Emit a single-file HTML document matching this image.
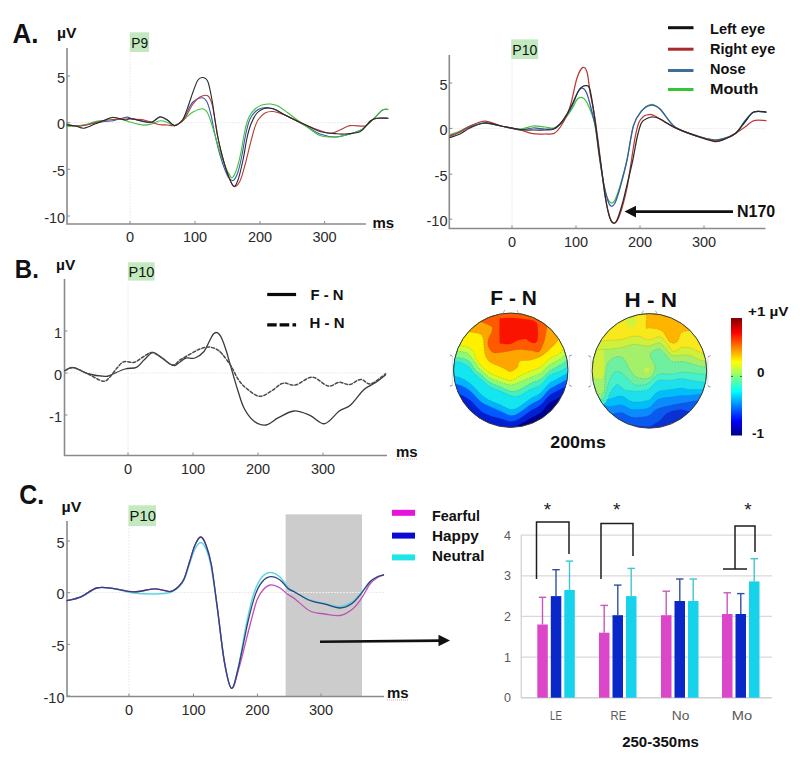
<!DOCTYPE html>
<html><head><meta charset="utf-8"><title>ERP figure</title>
<style>html,body{margin:0;padding:0;background:#fff;width:800px;height:762px;overflow:hidden}svg{display:block}</style>
</head><body>
<svg width="800" height="762" viewBox="0 0 800 762" font-family='"Liberation Sans", sans-serif'>
<rect width="800" height="762" fill="#fff"/>
<clipPath id="clipFN"><circle cx="510.8" cy="370.2" r="57.2"/></clipPath>
<g clip-path="url(#clipFN)">
<circle cx="510.8" cy="370.2" r="57.2" fill="#00008c"/>
<path d="M446.0,404.0 C448.3,404.4 455.6,405.2 459.6,406.4 C463.6,407.6 466.6,408.7 470.2,411.0 C473.8,413.3 477.7,417.7 480.9,420.0 C484.1,422.3 486.4,423.3 489.6,424.6 C492.8,425.9 496.6,427.3 500.2,428.0 C503.8,428.7 507.7,429.6 510.9,429.0 C514.1,428.4 516.4,426.4 519.6,424.6 C522.8,422.9 526.7,420.5 530.2,418.5 C533.8,416.5 537.8,415.0 540.9,412.5 C544.0,410.0 546.0,405.9 549.1,403.3 C552.2,400.8 557.0,398.9 559.8,397.2 C562.6,395.5 563.5,394.5 566.0,393.0 C568.5,391.5 573.5,388.8 575.0,388.0 L595.0,388.0 L595.0,303.0 L426.0,303.0 L426.0,404.0 Z" fill="#001ed2"/>
<path d="M446.0,392.0 C448.3,392.4 455.6,392.8 459.6,394.2 C463.6,395.6 466.6,397.5 470.2,400.3 C473.8,403.1 477.7,408.5 480.9,411.0 C484.1,413.5 486.4,414.2 489.6,415.5 C492.8,416.8 496.6,417.5 500.2,418.5 C503.8,419.5 507.7,421.6 510.9,421.6 C514.1,421.6 516.4,420.3 519.6,418.5 C522.8,416.7 526.7,413.2 530.2,410.9 C533.8,408.6 537.8,407.3 540.9,404.8 C544.0,402.3 546.0,398.2 549.1,395.7 C552.2,393.2 557.0,391.2 559.8,389.6 C562.6,388.0 563.5,387.4 566.0,386.0 C568.5,384.6 573.5,381.8 575.0,381.0 L595.0,381.0 L595.0,303.0 L426.0,303.0 L426.0,392.0 Z" fill="#005aff"/>
<path d="M446.0,383.0 C448.3,383.3 455.6,383.6 459.6,385.0 C463.6,386.4 466.6,388.3 470.2,391.1 C473.8,393.9 477.7,399.2 480.9,401.8 C484.1,404.4 486.4,404.9 489.6,406.4 C492.8,407.9 496.6,409.4 500.2,410.9 C503.8,412.4 507.7,415.2 510.9,415.5 C514.1,415.8 516.4,414.3 519.6,412.5 C522.8,410.7 526.7,407.1 530.2,404.8 C533.8,402.5 537.8,401.3 540.9,398.8 C544.0,396.3 546.0,392.2 549.1,389.6 C552.2,387.1 557.0,385.1 559.8,383.5 C562.6,381.9 563.5,381.4 566.0,380.0 C568.5,378.6 573.5,375.8 575.0,375.0 L595.0,375.0 L595.0,303.0 L426.0,303.0 L426.0,383.0 Z" fill="#00b4ff"/>
<path d="M446.0,375.0 C448.3,375.4 455.6,376.0 459.6,377.4 C463.6,378.8 466.6,380.7 470.2,383.5 C473.8,386.3 477.7,391.4 480.9,394.2 C484.1,397.0 486.4,398.5 489.6,400.3 C492.8,402.1 496.6,403.3 500.2,404.8 C503.8,406.3 507.7,409.1 510.9,409.4 C514.1,409.7 516.4,408.2 519.6,406.4 C522.8,404.6 526.7,401.1 530.2,398.8 C533.8,396.5 537.8,395.2 540.9,392.7 C544.0,390.1 546.0,386.1 549.1,383.5 C552.2,380.9 557.0,379.0 559.8,377.4 C562.6,375.8 563.5,375.4 566.0,374.0 C568.5,372.6 573.5,369.8 575.0,369.0 L595.0,369.0 L595.0,303.0 L426.0,303.0 L426.0,375.0 Z" fill="#14e6f0"/>
<path d="M446.0,361.0 C448.3,361.2 456.3,361.5 459.6,362.2 C462.9,362.9 464.2,364.0 466.0,365.0 C467.8,366.0 468.9,366.9 470.2,368.3 C471.5,369.7 472.2,371.7 474.0,373.5 C475.8,375.3 478.3,376.8 480.9,379.0 C483.5,381.2 486.4,384.6 489.6,386.6 C492.8,388.6 496.6,389.6 500.2,391.1 C503.8,392.6 507.7,394.9 510.9,395.7 C514.1,396.5 516.4,396.7 519.6,395.7 C522.8,394.7 526.7,391.4 530.2,389.6 C533.8,387.8 537.8,387.3 540.9,385.0 C544.0,382.7 546.0,378.3 549.1,376.0 C552.2,373.7 557.0,372.7 559.8,371.4 C562.6,370.1 563.5,369.6 566.0,368.0 C568.5,366.4 573.5,363.0 575.0,362.0 L595.0,362.0 L595.0,303.0 L426.0,303.0 L426.0,361.0 Z" fill="#46f0be"/>
<path d="M446.0,356.0 C448.3,356.3 456.3,357.1 459.6,357.7 C462.9,358.3 464.2,358.8 466.0,359.5 C467.8,360.2 468.9,360.8 470.2,362.2 C471.5,363.6 472.9,366.4 474.0,368.0 C475.1,369.6 475.9,370.9 477.0,372.0 C478.1,373.1 478.8,372.7 480.9,374.4 C483.0,376.1 486.4,380.0 489.6,382.0 C492.8,384.0 496.6,385.1 500.2,386.6 C503.8,388.1 507.7,390.6 510.9,391.1 C514.1,391.6 516.4,390.9 519.6,389.6 C522.8,388.3 526.7,385.3 530.2,383.5 C533.8,381.7 537.8,381.0 540.9,379.0 C544.0,377.0 546.0,373.7 549.1,371.4 C552.2,369.1 557.0,367.0 559.8,365.3 C562.6,363.6 563.5,362.9 566.0,361.0 C568.5,359.1 573.5,355.2 575.0,354.0 L595.0,354.0 L595.0,303.0 L426.0,303.0 L426.0,356.0 Z" fill="#8cfa78"/>
<path d="M446.0,350.0 C448.3,350.3 456.1,351.1 459.6,351.6 C463.1,352.1 465.2,352.2 467.0,353.0 C468.8,353.8 469.0,354.8 470.2,356.1 C471.4,357.4 472.7,359.3 474.0,361.0 C475.3,362.7 476.9,365.0 478.0,366.5 C479.1,368.0 479.0,368.0 480.9,369.8 C482.8,371.6 486.4,375.4 489.6,377.4 C492.8,379.4 496.6,380.7 500.2,382.0 C503.8,383.3 507.7,385.0 510.9,385.0 C514.1,385.0 516.4,383.3 519.6,382.0 C522.8,380.7 526.7,378.9 530.2,377.4 C533.8,375.9 537.8,374.9 540.9,372.9 C544.0,370.9 546.0,367.6 549.1,365.3 C552.2,363.0 557.0,361.1 559.8,359.2 C562.6,357.3 563.5,356.4 566.0,354.0 C568.5,351.6 573.5,346.5 575.0,345.0 L595.0,345.0 L595.0,303.0 L426.0,303.0 L426.0,350.0 Z" fill="#c8ff3c"/>
<path d="M446.0,338.0 C448.3,339.2 456.0,343.5 459.6,345.0 C463.2,346.5 465.4,346.0 467.7,347.1 C470.0,348.2 472.2,349.8 473.6,351.8 C475.0,353.8 474.8,356.6 476.0,358.9 C477.2,361.1 478.6,363.0 480.9,365.3 C483.2,367.6 486.4,370.9 489.6,372.9 C492.8,374.9 496.6,376.1 500.2,377.4 C503.8,378.7 507.7,380.7 510.9,380.5 C514.1,380.3 516.4,377.5 519.6,376.0 C522.8,374.5 526.7,372.9 530.2,371.4 C533.8,369.9 537.8,368.8 540.9,366.8 C544.0,364.8 546.0,361.5 549.1,359.2 C552.2,356.9 557.0,355.5 559.8,353.1 C562.6,350.7 563.5,348.2 566.0,345.0 C568.5,341.8 573.5,335.8 575.0,334.0 L595.0,334.0 L595.0,303.0 L426.0,303.0 L426.0,338.0 Z" fill="#fff000"/>
<path d="M462.0,331.0 C463.3,331.2 467.0,331.5 470.0,332.0 C473.0,332.5 477.8,333.0 480.0,334.0 C482.2,335.0 482.3,335.8 483.0,338.0 C483.7,340.2 483.6,344.0 484.0,347.0 C484.4,350.0 484.5,353.5 485.5,356.0 C486.5,358.5 487.6,360.2 490.0,362.0 C492.4,363.8 497.1,365.3 499.6,366.5 C502.1,367.7 503.2,368.2 505.0,369.0 C506.8,369.8 508.3,371.8 510.4,371.5 C512.5,371.2 515.9,368.9 517.5,367.2 C519.1,365.5 517.6,362.5 519.8,361.3 C522.0,360.1 526.8,361.1 530.5,360.1 C534.2,359.1 539.0,357.4 542.3,355.4 C545.6,353.4 548.1,350.5 550.5,348.3 C552.9,346.1 554.1,345.1 556.4,342.4 C558.6,339.7 562.7,333.7 564.0,332.0 L584.0,332.0 L584.0,303.0 L442.0,303.0 L442.0,331.0 Z" fill="#ffa500"/>
<path d="M470.0,318.0 C471.7,318.6 476.9,320.2 480.0,321.4 C483.1,322.5 486.7,323.9 488.7,324.9 C490.7,325.9 491.8,326.2 492.2,327.5 C492.6,328.8 492.0,330.9 491.4,332.7 C490.8,334.4 489.3,335.9 488.7,338.0 C488.1,340.1 487.6,343.0 487.9,345.0 C488.2,347.0 489.3,348.9 490.5,350.2 C491.7,351.5 492.3,352.8 495.0,353.0 C497.7,353.2 502.9,352.1 506.8,351.5 C510.7,350.9 514.6,349.6 518.6,349.5 C522.6,349.4 527.1,350.2 530.5,350.6 C533.9,351.0 536.7,352.6 538.7,351.8 C540.7,351.0 541.3,347.9 542.3,345.9 C543.3,343.9 543.9,342.6 544.6,340.0 C545.3,337.4 545.9,332.8 546.5,330.0 C547.1,327.2 546.6,325.1 548.2,323.1 C549.8,321.1 554.7,318.9 556.0,318.0 L576.0,318.0 L576.0,303.0 L450.0,303.0 L450.0,318.0 Z" fill="#ff5a00"/>
<path d="M499.7,319.6 C499.2,323.6 499.5,338.4 499.7,342.4 C499.9,346.4 499.2,343.2 501.0,343.5 C502.8,343.8 507.8,344.6 510.6,344.1 C513.4,343.6 515.1,341.5 517.6,340.6 C520.1,339.7 523.6,338.8 525.5,338.9 C527.4,339.0 527.5,340.8 529.0,341.5 C530.5,342.2 532.8,343.5 534.2,343.2 C535.7,342.9 537.1,342.3 537.7,339.7 C538.3,337.1 538.0,330.4 537.7,327.5 C537.4,324.6 537.5,323.5 536.0,322.2 C534.5,320.9 532.5,320.3 529.0,319.6 C525.5,318.9 519.4,318.1 515.0,317.9 C510.6,317.7 505.2,318.0 502.7,318.3 C500.1,318.6 500.2,315.6 499.7,319.6Z" fill="#fa1400"/>
<path d="M446.0,392.0 C448.3,392.4 455.6,392.8 459.6,394.2 C463.6,395.6 466.6,397.5 470.2,400.3 C473.8,403.1 477.7,408.5 480.9,411.0 C484.1,413.5 486.4,414.2 489.6,415.5 C492.8,416.8 496.6,417.5 500.2,418.5 C503.8,419.5 507.7,421.6 510.9,421.6 C514.1,421.6 516.4,420.3 519.6,418.5 C522.8,416.7 526.7,413.2 530.2,410.9 C533.8,408.6 537.8,407.3 540.9,404.8 C544.0,402.3 546.0,398.2 549.1,395.7 C552.2,393.2 557.0,391.2 559.8,389.6 C562.6,388.0 563.5,387.4 566.0,386.0 C568.5,384.6 573.5,381.8 575.0,381.0" fill="none" stroke="#404040" stroke-opacity="0.35" stroke-width="0.6" stroke-dasharray="1.5,1.2"/>
<path d="M446.0,383.0 C448.3,383.3 455.6,383.6 459.6,385.0 C463.6,386.4 466.6,388.3 470.2,391.1 C473.8,393.9 477.7,399.2 480.9,401.8 C484.1,404.4 486.4,404.9 489.6,406.4 C492.8,407.9 496.6,409.4 500.2,410.9 C503.8,412.4 507.7,415.2 510.9,415.5 C514.1,415.8 516.4,414.3 519.6,412.5 C522.8,410.7 526.7,407.1 530.2,404.8 C533.8,402.5 537.8,401.3 540.9,398.8 C544.0,396.3 546.0,392.2 549.1,389.6 C552.2,387.1 557.0,385.1 559.8,383.5 C562.6,381.9 563.5,381.4 566.0,380.0 C568.5,378.6 573.5,375.8 575.0,375.0" fill="none" stroke="#404040" stroke-opacity="0.35" stroke-width="0.6" stroke-dasharray="1.5,1.2"/>
<path d="M446.0,375.0 C448.3,375.4 455.6,376.0 459.6,377.4 C463.6,378.8 466.6,380.7 470.2,383.5 C473.8,386.3 477.7,391.4 480.9,394.2 C484.1,397.0 486.4,398.5 489.6,400.3 C492.8,402.1 496.6,403.3 500.2,404.8 C503.8,406.3 507.7,409.1 510.9,409.4 C514.1,409.7 516.4,408.2 519.6,406.4 C522.8,404.6 526.7,401.1 530.2,398.8 C533.8,396.5 537.8,395.2 540.9,392.7 C544.0,390.1 546.0,386.1 549.1,383.5 C552.2,380.9 557.0,379.0 559.8,377.4 C562.6,375.8 563.5,375.4 566.0,374.0 C568.5,372.6 573.5,369.8 575.0,369.0" fill="none" stroke="#404040" stroke-opacity="0.35" stroke-width="0.6" stroke-dasharray="1.5,1.2"/>
<path d="M446.0,361.0 C448.3,361.2 456.3,361.5 459.6,362.2 C462.9,362.9 464.2,364.0 466.0,365.0 C467.8,366.0 468.9,366.9 470.2,368.3 C471.5,369.7 472.2,371.7 474.0,373.5 C475.8,375.3 478.3,376.8 480.9,379.0 C483.5,381.2 486.4,384.6 489.6,386.6 C492.8,388.6 496.6,389.6 500.2,391.1 C503.8,392.6 507.7,394.9 510.9,395.7 C514.1,396.5 516.4,396.7 519.6,395.7 C522.8,394.7 526.7,391.4 530.2,389.6 C533.8,387.8 537.8,387.3 540.9,385.0 C544.0,382.7 546.0,378.3 549.1,376.0 C552.2,373.7 557.0,372.7 559.8,371.4 C562.6,370.1 563.5,369.6 566.0,368.0 C568.5,366.4 573.5,363.0 575.0,362.0" fill="none" stroke="#404040" stroke-opacity="0.35" stroke-width="0.6" stroke-dasharray="1.5,1.2"/>
<path d="M446.0,356.0 C448.3,356.3 456.3,357.1 459.6,357.7 C462.9,358.3 464.2,358.8 466.0,359.5 C467.8,360.2 468.9,360.8 470.2,362.2 C471.5,363.6 472.9,366.4 474.0,368.0 C475.1,369.6 475.9,370.9 477.0,372.0 C478.1,373.1 478.8,372.7 480.9,374.4 C483.0,376.1 486.4,380.0 489.6,382.0 C492.8,384.0 496.6,385.1 500.2,386.6 C503.8,388.1 507.7,390.6 510.9,391.1 C514.1,391.6 516.4,390.9 519.6,389.6 C522.8,388.3 526.7,385.3 530.2,383.5 C533.8,381.7 537.8,381.0 540.9,379.0 C544.0,377.0 546.0,373.7 549.1,371.4 C552.2,369.1 557.0,367.0 559.8,365.3 C562.6,363.6 563.5,362.9 566.0,361.0 C568.5,359.1 573.5,355.2 575.0,354.0" fill="none" stroke="#404040" stroke-opacity="0.35" stroke-width="0.6" stroke-dasharray="1.5,1.2"/>
<path d="M446.0,350.0 C448.3,350.3 456.1,351.1 459.6,351.6 C463.1,352.1 465.2,352.2 467.0,353.0 C468.8,353.8 469.0,354.8 470.2,356.1 C471.4,357.4 472.7,359.3 474.0,361.0 C475.3,362.7 476.9,365.0 478.0,366.5 C479.1,368.0 479.0,368.0 480.9,369.8 C482.8,371.6 486.4,375.4 489.6,377.4 C492.8,379.4 496.6,380.7 500.2,382.0 C503.8,383.3 507.7,385.0 510.9,385.0 C514.1,385.0 516.4,383.3 519.6,382.0 C522.8,380.7 526.7,378.9 530.2,377.4 C533.8,375.9 537.8,374.9 540.9,372.9 C544.0,370.9 546.0,367.6 549.1,365.3 C552.2,363.0 557.0,361.1 559.8,359.2 C562.6,357.3 563.5,356.4 566.0,354.0 C568.5,351.6 573.5,346.5 575.0,345.0" fill="none" stroke="#404040" stroke-opacity="0.35" stroke-width="0.6" stroke-dasharray="1.5,1.2"/>
<path d="M446.0,338.0 C448.3,339.2 456.0,343.5 459.6,345.0 C463.2,346.5 465.4,346.0 467.7,347.1 C470.0,348.2 472.2,349.8 473.6,351.8 C475.0,353.8 474.8,356.6 476.0,358.9 C477.2,361.1 478.6,363.0 480.9,365.3 C483.2,367.6 486.4,370.9 489.6,372.9 C492.8,374.9 496.6,376.1 500.2,377.4 C503.8,378.7 507.7,380.7 510.9,380.5 C514.1,380.3 516.4,377.5 519.6,376.0 C522.8,374.5 526.7,372.9 530.2,371.4 C533.8,369.9 537.8,368.8 540.9,366.8 C544.0,364.8 546.0,361.5 549.1,359.2 C552.2,356.9 557.0,355.5 559.8,353.1 C562.6,350.7 563.5,348.2 566.0,345.0 C568.5,341.8 573.5,335.8 575.0,334.0" fill="none" stroke="#404040" stroke-opacity="0.35" stroke-width="0.6" stroke-dasharray="1.5,1.2"/>
<path d="M462.0,331.0 C463.3,331.2 467.0,331.5 470.0,332.0 C473.0,332.5 477.8,333.0 480.0,334.0 C482.2,335.0 482.3,335.8 483.0,338.0 C483.7,340.2 483.6,344.0 484.0,347.0 C484.4,350.0 484.5,353.5 485.5,356.0 C486.5,358.5 487.6,360.2 490.0,362.0 C492.4,363.8 497.1,365.3 499.6,366.5 C502.1,367.7 503.2,368.2 505.0,369.0 C506.8,369.8 508.3,371.8 510.4,371.5 C512.5,371.2 515.9,368.9 517.5,367.2 C519.1,365.5 517.6,362.5 519.8,361.3 C522.0,360.1 526.8,361.1 530.5,360.1 C534.2,359.1 539.0,357.4 542.3,355.4 C545.6,353.4 548.1,350.5 550.5,348.3 C552.9,346.1 554.1,345.1 556.4,342.4 C558.6,339.7 562.7,333.7 564.0,332.0" fill="none" stroke="#404040" stroke-opacity="0.35" stroke-width="0.6" stroke-dasharray="1.5,1.2"/>
<path d="M470.0,318.0 C471.7,318.6 476.9,320.2 480.0,321.4 C483.1,322.5 486.7,323.9 488.7,324.9 C490.7,325.9 491.8,326.2 492.2,327.5 C492.6,328.8 492.0,330.9 491.4,332.7 C490.8,334.4 489.3,335.9 488.7,338.0 C488.1,340.1 487.6,343.0 487.9,345.0 C488.2,347.0 489.3,348.9 490.5,350.2 C491.7,351.5 492.3,352.8 495.0,353.0 C497.7,353.2 502.9,352.1 506.8,351.5 C510.7,350.9 514.6,349.6 518.6,349.5 C522.6,349.4 527.1,350.2 530.5,350.6 C533.9,351.0 536.7,352.6 538.7,351.8 C540.7,351.0 541.3,347.9 542.3,345.9 C543.3,343.9 543.9,342.6 544.6,340.0 C545.3,337.4 545.9,332.8 546.5,330.0 C547.1,327.2 546.6,325.1 548.2,323.1 C549.8,321.1 554.7,318.9 556.0,318.0" fill="none" stroke="#404040" stroke-opacity="0.35" stroke-width="0.6" stroke-dasharray="1.5,1.2"/>
</g>
<circle cx="510.8" cy="370.2" r="57.2" fill="none" stroke="#3a3a3a" stroke-width="1"/>
<path d="M502.8,313.5 L504.8,310.0 M516.8,310.0 L518.8,313.5" stroke="#9a9a9a" stroke-width="0.8" fill="none"/>
<path d="M452.4,356.2 V385.2" stroke="#d4d4dc" stroke-width="0.8" fill="none"/>
<path d="M452.4,356.2 l-2.5,-1.2 M452.4,385.2 l-2.5,1.2" stroke="#8a8a94" stroke-width="1" fill="none"/>
<path d="M569.2,356.2 V385.2" stroke="#d4d4dc" stroke-width="0.8" fill="none"/>
<path d="M569.2,356.2 l2.5,-1.2 M569.2,385.2 l2.5,1.2" stroke="#8a8a94" stroke-width="1" fill="none"/>
<clipPath id="clipHN"><circle cx="649.4" cy="370.9" r="57.3"/></clipPath>
<g clip-path="url(#clipHN)">
<circle cx="649.4" cy="370.9" r="57.3" fill="#0a32d2"/>
<path d="M590.0,420.0 C593.4,420.3 605.3,421.3 610.5,421.9 C615.7,422.5 617.6,423.0 621.3,423.5 C625.0,424.0 628.2,424.5 632.7,425.0 C637.2,425.5 644.7,426.7 648.2,426.5 C651.8,426.3 652.1,425.0 654.0,424.0 C655.9,423.0 657.6,422.1 659.6,420.4 C661.6,418.7 663.9,415.6 666.0,414.0 C668.1,412.4 669.5,411.9 672.0,411.1 C674.5,410.4 678.4,409.5 681.3,409.5 C684.2,409.5 686.2,411.4 689.3,411.1 C692.4,410.9 696.3,408.9 700.1,408.0 C703.9,407.1 710.0,406.3 712.0,406.0 L732.0,406.0 L732.0,303.59999999999997 L570.0,303.59999999999997 L570.0,420.0 Z" fill="#0a5af0"/>
<path d="M590.0,414.0 C593.4,414.0 605.3,414.4 610.5,414.2 C615.7,414.0 617.6,412.1 621.3,412.6 C625.0,413.1 628.2,416.8 632.7,417.3 C637.2,417.8 644.7,416.8 648.2,415.7 C651.8,414.6 652.1,412.3 654.0,411.0 C655.9,409.7 656.6,409.0 659.6,408.0 C662.6,407.0 668.4,405.7 672.0,404.9 C675.6,404.1 678.4,403.8 681.3,403.3 C684.2,402.8 686.2,402.3 689.3,401.8 C692.4,401.3 696.3,400.7 700.1,400.2 C703.9,399.7 710.0,399.2 712.0,399.0 L732.0,399.0 L732.0,303.59999999999997 L570.0,303.59999999999997 L570.0,414.0 Z" fill="#0a8cff"/>
<path d="M590.0,408.0 C591.6,407.5 596.2,405.3 599.6,405.0 C603.0,404.7 606.9,406.4 610.5,406.4 C614.1,406.4 617.6,404.5 621.3,405.0 C625.0,405.5 628.2,409.0 632.7,409.5 C637.2,410.0 644.7,409.1 648.2,408.0 C651.8,406.9 652.1,404.6 654.0,403.0 C655.9,401.4 656.6,399.7 659.6,398.7 C662.6,397.7 668.4,397.6 672.0,397.1 C675.6,396.6 678.4,395.9 681.3,395.6 C684.2,395.4 686.2,395.9 689.3,395.6 C692.4,395.3 696.3,394.4 700.1,394.0 C703.9,393.6 710.0,393.2 712.0,393.0 L732.0,393.0 L732.0,303.59999999999997 L570.0,303.59999999999997 L570.0,408.0 Z" fill="#00befa"/>
<path d="M590.0,404.0 C591.6,403.7 596.2,402.9 599.6,402.0 C603.0,401.1 606.9,399.7 610.5,398.7 C614.1,397.7 617.6,395.5 621.3,396.0 C625.0,396.5 628.2,401.1 632.7,401.8 C637.2,402.5 644.7,401.3 648.2,400.2 C651.8,399.1 652.1,396.5 654.0,395.0 C655.9,393.5 656.6,391.9 659.6,391.0 C662.6,390.1 668.4,389.9 672.0,389.4 C675.6,388.9 678.4,387.9 681.3,387.9 C684.2,387.9 686.2,389.1 689.3,389.4 C692.4,389.6 696.3,389.5 700.1,389.4 C703.9,389.3 710.0,389.1 712.0,389.0 L732.0,389.0 L732.0,303.59999999999997 L570.0,303.59999999999997 L570.0,404.0 Z" fill="#1ee0ec"/>
<path d="M590.0,402.0 C592.4,402.3 600.8,405.7 604.2,404.0 C607.6,402.3 608.7,395.0 610.5,392.0 C612.3,389.0 613.8,387.2 615.0,386.0 C616.2,384.8 617.0,384.3 618.0,384.5 C619.0,384.7 619.8,386.1 621.0,387.0 C622.2,387.9 623.0,389.3 625.0,390.0 C627.0,390.7 630.2,390.8 632.7,391.0 C635.2,391.2 637.4,391.3 640.0,391.0 C642.6,390.7 645.9,390.6 648.2,389.4 C650.5,388.2 652.1,385.6 654.0,384.0 C655.9,382.4 656.6,380.8 659.6,380.1 C662.6,379.5 668.4,380.4 672.0,380.1 C675.6,379.9 678.4,378.6 681.3,378.6 C684.2,378.6 686.2,379.6 689.3,380.1 C692.4,380.6 696.3,381.4 700.1,381.7 C703.9,382.0 710.0,381.9 712.0,382.0 L732.0,382.0 L732.0,303.59999999999997 L570.0,303.59999999999997 L570.0,402.0 Z" fill="#46f0c8"/>
<path d="M590.0,398.0 C592.2,398.2 600.2,400.7 603.0,399.0 C605.8,397.3 605.8,391.5 607.0,388.0 C608.2,384.5 609.2,380.7 610.5,378.0 C611.8,375.3 613.4,373.0 615.0,372.0 C616.6,371.0 618.3,371.3 620.0,372.0 C621.7,372.7 623.3,374.5 625.0,376.0 C626.7,377.5 628.4,379.5 630.0,381.0 C631.6,382.5 632.7,384.1 634.9,384.8 C637.1,385.5 640.9,385.3 643.1,385.0 C645.3,384.7 646.4,384.4 648.2,383.2 C650.0,382.0 652.1,379.5 654.0,378.0 C655.9,376.5 656.6,374.7 659.6,374.0 C662.6,373.3 668.4,374.3 672.0,374.0 C675.6,373.7 678.4,372.7 681.3,372.4 C684.2,372.1 686.2,372.1 689.3,372.4 C692.4,372.6 696.3,373.6 700.1,373.9 C703.9,374.2 710.0,374.0 712.0,374.0 L732.0,374.0 L732.0,303.59999999999997 L570.0,303.59999999999997 L570.0,398.0 Z" fill="#6ef0a0"/>
<path d="M590.0,393.0 C592.2,393.0 600.5,396.0 603.0,393.1 C605.5,390.2 604.5,380.3 605.3,375.4 C606.1,370.5 606.3,366.6 607.7,363.6 C609.1,360.7 611.3,358.8 613.6,357.7 C615.9,356.6 619.2,356.3 621.3,357.0 C623.4,357.7 624.7,360.1 626.0,362.0 C627.3,363.9 627.5,366.0 629.0,368.3 C630.5,370.6 632.8,374.3 634.9,376.0 C637.0,377.7 639.5,378.3 641.9,378.6 C644.2,378.9 647.0,378.9 649.0,378.0 C651.0,377.1 652.7,375.1 653.7,373.1 C654.7,371.1 655.3,368.4 654.9,366.0 C654.5,363.6 652.2,360.9 651.4,358.9 C650.6,356.9 649.8,355.6 650.2,354.2 C650.6,352.8 652.1,351.2 653.7,350.4 C655.3,349.6 657.6,348.4 659.6,349.2 C661.6,350.0 663.9,352.9 666.0,355.0 C668.1,357.1 669.5,360.4 672.0,361.5 C674.5,362.6 678.4,361.2 681.3,361.5 C684.2,361.8 686.2,362.3 689.3,363.1 C692.4,363.9 696.3,365.4 700.1,366.2 C703.9,367.0 710.0,367.7 712.0,368.0 L732.0,368.0 L732.0,303.59999999999997 L570.0,303.59999999999997 L570.0,393.0 Z" fill="#a5f06a"/>
<path d="M590.0,350.0 C591.6,349.9 596.2,349.7 599.6,349.5 C603.0,349.3 606.9,349.3 610.5,349.0 C614.1,348.7 617.6,348.2 621.3,347.5 C625.0,346.8 629.6,344.9 632.7,344.5 C635.8,344.1 637.4,344.8 640.0,345.0 C642.6,345.2 644.9,346.3 648.2,346.0 C651.5,345.7 656.6,342.5 659.6,343.0 C662.6,343.5 663.9,346.9 666.0,349.0 C668.1,351.1 669.5,354.2 672.0,355.3 C674.5,356.4 678.4,355.3 681.3,355.3 C684.2,355.3 686.2,354.5 689.3,355.3 C692.4,356.1 696.3,358.7 700.1,360.0 C703.9,361.3 710.0,362.5 712.0,363.0 L732.0,363.0 L732.0,303.59999999999997 L570.0,303.59999999999997 L570.0,350.0 Z" fill="#d0f03c"/>
<path d="M590.0,342.0 C591.6,341.8 596.2,341.3 599.6,341.0 C603.0,340.7 606.9,340.4 610.5,340.2 C614.1,339.9 617.6,340.1 621.3,339.5 C625.0,338.9 629.6,337.0 632.7,336.5 C635.8,336.0 637.4,335.9 640.0,336.5 C642.6,337.1 644.9,339.8 648.2,339.9 C651.5,339.9 656.6,336.4 659.6,336.8 C662.6,337.2 663.9,339.7 666.0,342.0 C668.1,344.3 670.0,349.4 672.0,350.7 C674.0,352.0 676.5,350.5 678.0,350.0 C679.5,349.5 679.4,348.0 681.3,347.6 C683.2,347.2 686.2,346.8 689.3,347.6 C692.4,348.4 696.3,350.8 700.1,352.2 C703.9,353.6 710.0,355.4 712.0,356.0 L732.0,356.0 L732.0,303.59999999999997 L570.0,303.59999999999997 L570.0,342.0 Z" fill="#f8e81c"/>
<path d="M640.0,300.0 C641.0,302.2 645.1,308.7 646.1,313.2 C647.1,317.7 645.7,324.7 646.1,327.2 C646.5,329.7 646.8,327.8 648.7,328.1 C650.6,328.4 655.2,328.4 657.5,329.0 C659.8,329.6 661.2,330.3 662.7,331.6 C664.2,332.9 665.0,335.1 666.2,336.9 C667.4,338.6 668.2,341.1 669.7,342.1 C671.2,343.1 673.5,343.4 675.0,343.0 C676.5,342.6 677.6,341.0 678.5,339.5 C679.4,338.0 679.3,335.5 680.2,334.2 C681.1,332.9 682.4,332.2 683.7,331.6 C685.0,331.0 685.4,331.3 688.1,330.7 C690.8,330.1 698.0,328.4 700.0,328.0 L720.0,328.0 L720.0,303.59999999999997 L620.0,303.59999999999997 L620.0,300.0 Z" fill="#ffb400"/>
<path d="M626.0,318.0 C626.8,316.6 629.3,316.4 631.0,316.5 C632.7,316.6 635.1,317.2 636.0,318.5 C636.9,319.8 637.3,322.5 636.5,324.0 C635.7,325.5 632.7,327.3 631.0,327.5 C629.3,327.7 627.3,326.6 626.5,325.0 C625.7,323.4 625.2,319.4 626.0,318.0Z" fill="#d2f03c"/>
<path d="M588.0,346.0 C589.3,340.0 593.7,345.0 596.0,345.0 C598.3,345.0 600.7,344.2 602.0,346.0 C603.3,347.8 603.7,352.3 604.0,356.0 C604.3,359.7 604.2,364.5 604.0,368.0 C603.8,371.5 603.3,375.0 602.5,377.0 C601.7,379.0 600.4,379.3 599.0,380.0 C597.6,380.7 595.8,380.8 594.0,381.0 C592.2,381.2 589.0,386.8 588.0,381.0 C587.0,375.2 586.7,352.0 588.0,346.0Z" fill="#d0f03c"/>
<path d="M588.0,379.0 C589.5,375.4 594.7,378.3 597.0,378.5 C599.3,378.7 601.0,378.1 602.0,380.0 C603.0,381.9 603.2,387.3 603.0,390.0 C602.8,392.7 602.3,394.3 601.0,396.0 C599.7,397.7 597.2,399.3 595.0,400.0 C592.8,400.7 589.2,403.5 588.0,400.0 C586.8,396.5 586.5,382.6 588.0,379.0Z" fill="#a5f06a"/>
<path d="M644.0,370.0 C644.0,369.1 645.8,367.3 646.7,367.3 C647.6,367.3 649.4,369.1 649.4,370.0 C649.4,370.9 647.6,372.7 646.7,372.7 C645.8,372.7 644.0,370.9 644.0,370.0Z" fill="#d0f048"/>
<path d="M590.0,414.0 C593.4,414.0 605.3,414.4 610.5,414.2 C615.7,414.0 617.6,412.1 621.3,412.6 C625.0,413.1 628.2,416.8 632.7,417.3 C637.2,417.8 644.7,416.8 648.2,415.7 C651.8,414.6 652.1,412.3 654.0,411.0 C655.9,409.7 656.6,409.0 659.6,408.0 C662.6,407.0 668.4,405.7 672.0,404.9 C675.6,404.1 678.4,403.8 681.3,403.3 C684.2,402.8 686.2,402.3 689.3,401.8 C692.4,401.3 696.3,400.7 700.1,400.2 C703.9,399.7 710.0,399.2 712.0,399.0" fill="none" stroke="#404040" stroke-opacity="0.35" stroke-width="0.6" stroke-dasharray="1.5,1.2"/>
<path d="M590.0,408.0 C591.6,407.5 596.2,405.3 599.6,405.0 C603.0,404.7 606.9,406.4 610.5,406.4 C614.1,406.4 617.6,404.5 621.3,405.0 C625.0,405.5 628.2,409.0 632.7,409.5 C637.2,410.0 644.7,409.1 648.2,408.0 C651.8,406.9 652.1,404.6 654.0,403.0 C655.9,401.4 656.6,399.7 659.6,398.7 C662.6,397.7 668.4,397.6 672.0,397.1 C675.6,396.6 678.4,395.9 681.3,395.6 C684.2,395.4 686.2,395.9 689.3,395.6 C692.4,395.3 696.3,394.4 700.1,394.0 C703.9,393.6 710.0,393.2 712.0,393.0" fill="none" stroke="#404040" stroke-opacity="0.35" stroke-width="0.6" stroke-dasharray="1.5,1.2"/>
<path d="M590.0,404.0 C591.6,403.7 596.2,402.9 599.6,402.0 C603.0,401.1 606.9,399.7 610.5,398.7 C614.1,397.7 617.6,395.5 621.3,396.0 C625.0,396.5 628.2,401.1 632.7,401.8 C637.2,402.5 644.7,401.3 648.2,400.2 C651.8,399.1 652.1,396.5 654.0,395.0 C655.9,393.5 656.6,391.9 659.6,391.0 C662.6,390.1 668.4,389.9 672.0,389.4 C675.6,388.9 678.4,387.9 681.3,387.9 C684.2,387.9 686.2,389.1 689.3,389.4 C692.4,389.6 696.3,389.5 700.1,389.4 C703.9,389.3 710.0,389.1 712.0,389.0" fill="none" stroke="#404040" stroke-opacity="0.35" stroke-width="0.6" stroke-dasharray="1.5,1.2"/>
<path d="M590.0,402.0 C592.4,402.3 600.8,405.7 604.2,404.0 C607.6,402.3 608.7,395.0 610.5,392.0 C612.3,389.0 613.8,387.2 615.0,386.0 C616.2,384.8 617.0,384.3 618.0,384.5 C619.0,384.7 619.8,386.1 621.0,387.0 C622.2,387.9 623.0,389.3 625.0,390.0 C627.0,390.7 630.2,390.8 632.7,391.0 C635.2,391.2 637.4,391.3 640.0,391.0 C642.6,390.7 645.9,390.6 648.2,389.4 C650.5,388.2 652.1,385.6 654.0,384.0 C655.9,382.4 656.6,380.8 659.6,380.1 C662.6,379.5 668.4,380.4 672.0,380.1 C675.6,379.9 678.4,378.6 681.3,378.6 C684.2,378.6 686.2,379.6 689.3,380.1 C692.4,380.6 696.3,381.4 700.1,381.7 C703.9,382.0 710.0,381.9 712.0,382.0" fill="none" stroke="#404040" stroke-opacity="0.35" stroke-width="0.6" stroke-dasharray="1.5,1.2"/>
<path d="M590.0,398.0 C592.2,398.2 600.2,400.7 603.0,399.0 C605.8,397.3 605.8,391.5 607.0,388.0 C608.2,384.5 609.2,380.7 610.5,378.0 C611.8,375.3 613.4,373.0 615.0,372.0 C616.6,371.0 618.3,371.3 620.0,372.0 C621.7,372.7 623.3,374.5 625.0,376.0 C626.7,377.5 628.4,379.5 630.0,381.0 C631.6,382.5 632.7,384.1 634.9,384.8 C637.1,385.5 640.9,385.3 643.1,385.0 C645.3,384.7 646.4,384.4 648.2,383.2 C650.0,382.0 652.1,379.5 654.0,378.0 C655.9,376.5 656.6,374.7 659.6,374.0 C662.6,373.3 668.4,374.3 672.0,374.0 C675.6,373.7 678.4,372.7 681.3,372.4 C684.2,372.1 686.2,372.1 689.3,372.4 C692.4,372.6 696.3,373.6 700.1,373.9 C703.9,374.2 710.0,374.0 712.0,374.0" fill="none" stroke="#404040" stroke-opacity="0.35" stroke-width="0.6" stroke-dasharray="1.5,1.2"/>
<path d="M590.0,393.0 C592.2,393.0 600.5,396.0 603.0,393.1 C605.5,390.2 604.5,380.3 605.3,375.4 C606.1,370.5 606.3,366.6 607.7,363.6 C609.1,360.7 611.3,358.8 613.6,357.7 C615.9,356.6 619.2,356.3 621.3,357.0 C623.4,357.7 624.7,360.1 626.0,362.0 C627.3,363.9 627.5,366.0 629.0,368.3 C630.5,370.6 632.8,374.3 634.9,376.0 C637.0,377.7 639.5,378.3 641.9,378.6 C644.2,378.9 647.0,378.9 649.0,378.0 C651.0,377.1 652.7,375.1 653.7,373.1 C654.7,371.1 655.3,368.4 654.9,366.0 C654.5,363.6 652.2,360.9 651.4,358.9 C650.6,356.9 649.8,355.6 650.2,354.2 C650.6,352.8 652.1,351.2 653.7,350.4 C655.3,349.6 657.6,348.4 659.6,349.2 C661.6,350.0 663.9,352.9 666.0,355.0 C668.1,357.1 669.5,360.4 672.0,361.5 C674.5,362.6 678.4,361.2 681.3,361.5 C684.2,361.8 686.2,362.3 689.3,363.1 C692.4,363.9 696.3,365.4 700.1,366.2 C703.9,367.0 710.0,367.7 712.0,368.0" fill="none" stroke="#404040" stroke-opacity="0.35" stroke-width="0.6" stroke-dasharray="1.5,1.2"/>
<path d="M590.0,350.0 C591.6,349.9 596.2,349.7 599.6,349.5 C603.0,349.3 606.9,349.3 610.5,349.0 C614.1,348.7 617.6,348.2 621.3,347.5 C625.0,346.8 629.6,344.9 632.7,344.5 C635.8,344.1 637.4,344.8 640.0,345.0 C642.6,345.2 644.9,346.3 648.2,346.0 C651.5,345.7 656.6,342.5 659.6,343.0 C662.6,343.5 663.9,346.9 666.0,349.0 C668.1,351.1 669.5,354.2 672.0,355.3 C674.5,356.4 678.4,355.3 681.3,355.3 C684.2,355.3 686.2,354.5 689.3,355.3 C692.4,356.1 696.3,358.7 700.1,360.0 C703.9,361.3 710.0,362.5 712.0,363.0" fill="none" stroke="#404040" stroke-opacity="0.35" stroke-width="0.6" stroke-dasharray="1.5,1.2"/>
<path d="M590.0,342.0 C591.6,341.8 596.2,341.3 599.6,341.0 C603.0,340.7 606.9,340.4 610.5,340.2 C614.1,339.9 617.6,340.1 621.3,339.5 C625.0,338.9 629.6,337.0 632.7,336.5 C635.8,336.0 637.4,335.9 640.0,336.5 C642.6,337.1 644.9,339.8 648.2,339.9 C651.5,339.9 656.6,336.4 659.6,336.8 C662.6,337.2 663.9,339.7 666.0,342.0 C668.1,344.3 670.0,349.4 672.0,350.7 C674.0,352.0 676.5,350.5 678.0,350.0 C679.5,349.5 679.4,348.0 681.3,347.6 C683.2,347.2 686.2,346.8 689.3,347.6 C692.4,348.4 696.3,350.8 700.1,352.2 C703.9,353.6 710.0,355.4 712.0,356.0" fill="none" stroke="#404040" stroke-opacity="0.35" stroke-width="0.6" stroke-dasharray="1.5,1.2"/>
<path d="M640.0,300.0 C641.0,302.2 645.1,308.7 646.1,313.2 C647.1,317.7 645.7,324.7 646.1,327.2 C646.5,329.7 646.8,327.8 648.7,328.1 C650.6,328.4 655.2,328.4 657.5,329.0 C659.8,329.6 661.2,330.3 662.7,331.6 C664.2,332.9 665.0,335.1 666.2,336.9 C667.4,338.6 668.2,341.1 669.7,342.1 C671.2,343.1 673.5,343.4 675.0,343.0 C676.5,342.6 677.6,341.0 678.5,339.5 C679.4,338.0 679.3,335.5 680.2,334.2 C681.1,332.9 682.4,332.2 683.7,331.6 C685.0,331.0 685.4,331.3 688.1,330.7 C690.8,330.1 698.0,328.4 700.0,328.0" fill="none" stroke="#404040" stroke-opacity="0.35" stroke-width="0.6" stroke-dasharray="1.5,1.2"/>
</g>
<circle cx="649.4" cy="370.9" r="57.3" fill="none" stroke="#3a3a3a" stroke-width="1"/>
<path d="M641.4,314.09999999999997 L643.4,310.59999999999997 M655.4,310.59999999999997 L657.4,314.09999999999997" stroke="#9a9a9a" stroke-width="0.8" fill="none"/>
<path d="M590.9,356.9 V385.9" stroke="#d4d4dc" stroke-width="0.8" fill="none"/>
<path d="M590.9,356.9 l-2.5,-1.2 M590.9,385.9 l-2.5,1.2" stroke="#8a8a94" stroke-width="1" fill="none"/>
<path d="M707.9,356.9 V385.9" stroke="#d4d4dc" stroke-width="0.8" fill="none"/>
<path d="M707.9,356.9 l2.5,-1.2 M707.9,385.9 l2.5,1.2" stroke="#8a8a94" stroke-width="1" fill="none"/>

<text x="12.5" y="42.5" font-size="27" font-weight="bold" text-anchor="start" fill="#111"  textLength="26" lengthAdjust="spacingAndGlyphs">A.</text><text x="57" y="37.9" font-size="15" font-weight="bold" text-anchor="start" fill="#111"  textLength="19.5" lengthAdjust="spacingAndGlyphs">µV</text><line x1="67" y1="122.7" x2="366" y2="122.7" stroke="#ececec" stroke-width="1" stroke-dasharray="2,1"/>
<line x1="130" y1="52" x2="130" y2="224" stroke="#ececec" stroke-width="1" stroke-dasharray="2,1"/>
<path d="M67,48 V224 H366" fill="none" stroke="#8a8a8a" stroke-width="1.6"/>
<line x1="67" y1="76" x2="70" y2="76" stroke="#8a8a8a" stroke-width="1"/>
<text x="65.2" y="82.5" font-size="14.5" font-weight="normal" text-anchor="end" fill="#2a2a2a" >5</text>
<line x1="67" y1="122.7" x2="70" y2="122.7" stroke="#8a8a8a" stroke-width="1"/>
<text x="65.2" y="129.2" font-size="14.5" font-weight="normal" text-anchor="end" fill="#2a2a2a" >0</text>
<line x1="67" y1="169.3" x2="70" y2="169.3" stroke="#8a8a8a" stroke-width="1"/>
<text x="65.2" y="175.8" font-size="14.5" font-weight="normal" text-anchor="end" fill="#2a2a2a" >-5</text>
<line x1="67" y1="216" x2="70" y2="216" stroke="#8a8a8a" stroke-width="1"/>
<text x="65.2" y="222.5" font-size="14.5" font-weight="normal" text-anchor="end" fill="#2a2a2a" >-10</text>
<line x1="130" y1="224" x2="130" y2="221" stroke="#8a8a8a" stroke-width="1"/>
<text x="130" y="242" font-size="14.5" font-weight="normal" text-anchor="middle" fill="#2a2a2a" >0</text>
<line x1="195" y1="224" x2="195" y2="221" stroke="#8a8a8a" stroke-width="1"/>
<text x="195" y="242" font-size="14.5" font-weight="normal" text-anchor="middle" fill="#2a2a2a" >100</text>
<line x1="260" y1="224" x2="260" y2="221" stroke="#8a8a8a" stroke-width="1"/>
<text x="260" y="242" font-size="14.5" font-weight="normal" text-anchor="middle" fill="#2a2a2a" >200</text>
<line x1="324.6" y1="224" x2="324.6" y2="221" stroke="#8a8a8a" stroke-width="1"/>
<text x="324.6" y="242" font-size="14.5" font-weight="normal" text-anchor="middle" fill="#2a2a2a" >300</text>
<text x="372.5" y="227.5" font-size="15" font-weight="bold" text-anchor="start" fill="#111" >ms</text>
<line x1="372.5" y1="229.5" x2="393.5" y2="229.5" stroke="#e09090" stroke-width="0.8" stroke-dasharray="1,1"/><rect x="129.8" y="32.3" width="19.2" height="19.7" fill="#c4e8c0"/><text x="131.3" y="47.7" font-size="15" font-weight="normal" text-anchor="start" fill="#0c180c"  textLength="16.8" lengthAdjust="spacingAndGlyphs">P9</text><path d="M67.0,125.0 C68.4,125.2 72.7,126.0 75.5,126.0 C78.3,126.0 80.7,125.5 84.0,125.0 C87.3,124.5 92.2,123.6 95.6,123.0 C99.0,122.4 101.5,121.9 104.4,121.5 C107.3,121.1 109.4,121.4 113.0,120.7 C116.6,120.0 123.2,117.7 126.0,117.2 C128.8,116.8 127.2,117.3 130.0,118.0 C132.8,118.7 139.3,120.8 143.0,121.5 C146.7,122.2 149.2,122.8 152.0,122.0 C154.8,121.2 157.4,117.1 160.0,116.8 C162.6,116.5 165.2,118.5 167.6,120.0 C170.0,121.5 172.1,125.6 174.6,125.6 C177.1,125.6 180.4,122.3 182.5,120.0 C184.6,117.7 185.2,115.0 187.0,112.0 C188.8,109.0 190.5,104.4 193.0,102.0 C195.5,99.6 199.7,97.7 202.0,97.7 C204.3,97.7 205.5,99.1 207.0,102.0 C208.5,104.9 209.7,109.5 211.0,115.0 C212.3,120.5 213.5,128.3 215.0,135.0 C216.5,141.7 218.3,149.2 220.0,155.0 C221.7,160.8 223.5,166.2 225.0,170.0 C226.5,173.8 227.6,176.3 229.0,178.0 C230.4,179.7 231.9,181.4 233.4,180.4 C234.9,179.4 236.6,176.2 238.0,172.0 C239.4,167.8 240.7,161.5 242.0,155.0 C243.3,148.5 244.7,139.0 246.0,133.0 C247.3,127.0 248.3,122.7 250.0,119.0 C251.7,115.3 254.0,112.8 256.0,111.0 C258.0,109.2 260.0,108.5 262.0,108.0 C264.0,107.5 265.8,107.8 268.0,108.0 C270.2,108.2 272.2,108.3 275.0,109.5 C277.8,110.7 281.7,113.2 285.0,115.0 C288.3,116.8 291.2,118.0 295.0,120.0 C298.8,122.0 303.8,124.7 308.0,127.0 C312.2,129.3 315.5,132.3 320.0,134.0 C324.5,135.7 330.8,136.8 335.0,137.0 C339.2,137.2 340.8,136.3 345.0,135.2 C349.2,134.1 356.3,132.1 360.0,130.4 C363.7,128.7 364.4,127.2 367.0,125.0 C369.6,122.8 372.9,119.4 375.5,116.9 C378.1,114.4 380.4,111.1 382.5,109.9 C384.6,108.7 387.1,109.6 388.0,109.5" fill="none" stroke="#3a56a8" stroke-width="1.1" stroke-linejoin="round" stroke-linecap="round" opacity="1"/><path d="M67.0,126.4 C68.4,126.3 72.7,126.2 75.5,126.0 C78.3,125.8 80.7,125.8 84.0,125.1 C87.3,124.4 92.2,122.4 95.6,121.6 C99.0,120.8 101.5,121.0 104.4,120.3 C107.3,119.6 109.4,117.1 113.0,117.2 C116.6,117.3 123.2,120.0 126.0,120.8 C128.8,121.5 127.2,121.3 130.0,122.0 C132.8,122.7 139.3,124.8 143.0,125.1 C146.7,125.4 149.2,124.5 152.0,123.8 C154.8,123.1 157.4,121.0 160.0,120.8 C162.6,120.5 165.2,121.7 167.6,122.5 C170.0,123.3 172.1,125.8 174.6,125.6 C177.1,125.3 180.4,122.5 182.5,121.0 C184.6,119.5 185.2,118.3 187.0,116.8 C188.8,115.3 190.5,113.3 193.0,112.0 C195.5,110.7 199.7,108.7 202.0,108.7 C204.3,108.7 205.5,109.8 207.0,112.0 C208.5,114.2 209.7,118.2 211.0,122.0 C212.3,125.8 213.5,130.0 215.0,135.0 C216.5,140.0 218.3,146.8 220.0,152.0 C221.7,157.2 223.5,162.3 225.0,166.0 C226.5,169.7 227.8,172.1 229.0,174.0 C230.2,175.9 231.2,178.6 232.5,177.6 C233.8,176.6 235.6,172.3 237.0,168.0 C238.4,163.7 239.7,158.3 241.0,152.0 C242.3,145.7 243.7,135.8 245.0,130.0 C246.3,124.2 247.3,120.5 249.0,117.0 C250.7,113.5 252.8,111.0 255.0,109.0 C257.2,107.0 259.4,105.8 262.0,105.0 C264.6,104.2 268.0,103.8 270.7,104.0 C273.4,104.2 275.1,104.5 278.0,106.0 C280.9,107.5 284.3,110.3 288.0,113.0 C291.7,115.7 296.3,119.3 300.0,122.0 C303.7,124.7 306.7,126.8 310.0,129.0 C313.3,131.2 315.8,134.2 320.0,135.5 C324.2,136.8 330.8,137.1 335.0,137.0 C339.2,136.9 340.8,136.3 345.0,135.2 C349.2,134.1 356.3,132.1 360.0,130.4 C363.7,128.7 364.4,127.2 367.0,125.0 C369.6,122.8 372.9,119.4 375.5,116.9 C378.1,114.4 380.4,111.1 382.5,109.9 C384.6,108.7 387.1,109.6 388.0,109.5" fill="none" stroke="#3fbf3f" stroke-width="1.1" stroke-linejoin="round" stroke-linecap="round" opacity="1"/><path d="M67.0,123.8 C68.4,124.2 72.7,125.7 75.5,126.0 C78.3,126.3 80.7,126.1 84.0,125.5 C87.3,124.9 92.2,123.3 95.6,122.5 C99.0,121.7 101.5,121.0 104.4,120.5 C107.3,120.0 109.4,119.8 113.0,119.5 C116.6,119.2 123.2,119.1 126.0,119.0 C128.8,118.9 127.2,118.8 130.0,119.0 C132.8,119.2 139.3,119.3 143.0,119.9 C146.7,120.5 149.2,121.7 152.0,122.5 C154.8,123.3 157.4,124.3 160.0,124.7 C162.6,125.1 165.2,124.8 167.6,125.0 C170.0,125.2 172.1,126.3 174.6,125.6 C177.1,124.9 180.4,122.8 182.5,121.0 C184.6,119.2 185.2,117.4 187.0,114.6 C188.8,111.8 190.8,106.9 193.0,104.0 C195.2,101.1 197.6,98.4 200.0,97.0 C202.4,95.6 205.7,94.6 207.7,95.8 C209.7,97.0 210.8,100.0 212.0,104.0 C213.2,108.0 214.0,114.3 215.0,120.0 C216.0,125.7 216.8,132.2 218.0,138.0 C219.2,143.8 220.3,148.8 222.0,155.0 C223.7,161.2 226.0,169.8 228.0,175.0 C230.0,180.2 232.0,185.5 234.0,186.5 C236.0,187.5 238.2,184.6 240.0,181.0 C241.8,177.4 243.3,171.0 245.0,165.0 C246.7,159.0 248.5,150.8 250.0,145.0 C251.5,139.2 252.7,134.2 254.0,130.0 C255.3,125.8 256.2,122.8 258.0,120.0 C259.8,117.2 262.5,114.4 265.0,113.0 C267.5,111.6 270.2,111.3 273.0,111.5 C275.8,111.7 278.3,112.6 282.0,114.0 C285.7,115.4 290.7,118.0 295.0,120.0 C299.3,122.0 303.8,124.2 308.0,126.0 C312.2,127.8 316.3,129.3 320.0,130.6 C323.7,131.8 326.7,133.6 330.0,133.5 C333.3,133.4 336.7,131.3 340.0,130.0 C343.3,128.7 345.8,126.3 350.0,125.6 C354.2,124.9 361.7,126.8 365.0,126.0 C368.3,125.2 368.0,122.3 370.0,121.0 C372.0,119.7 374.0,118.7 377.0,118.2 C380.0,117.7 386.2,118.2 388.0,118.2" fill="none" stroke="#b83a3a" stroke-width="1.1" stroke-linejoin="round" stroke-linecap="round" opacity="1"/><path d="M67.0,125.0 C68.4,125.2 72.7,125.5 75.5,126.0 C78.3,126.5 80.7,128.6 84.0,128.2 C87.3,127.8 92.2,125.1 95.6,123.8 C99.0,122.5 101.5,121.3 104.4,120.3 C107.3,119.2 109.4,117.5 113.0,117.5 C116.6,117.5 123.2,119.8 126.0,120.0 C128.8,120.2 127.2,118.3 130.0,118.5 C132.8,118.7 139.3,120.6 143.0,121.2 C146.7,121.8 149.2,122.7 152.0,122.0 C154.8,121.3 157.4,117.3 160.0,117.0 C162.6,116.7 165.2,118.9 167.6,120.3 C170.0,121.7 172.1,125.6 174.6,125.6 C177.1,125.5 180.4,122.7 182.5,120.0 C184.6,117.3 185.2,114.1 187.0,109.4 C188.8,104.7 191.2,96.9 193.0,92.0 C194.8,87.1 196.3,82.4 198.0,80.0 C199.7,77.6 201.3,77.2 203.0,77.5 C204.7,77.8 206.5,78.2 208.0,82.0 C209.5,85.8 210.8,93.7 212.0,100.0 C213.2,106.3 214.0,113.7 215.0,120.0 C216.0,126.3 216.8,132.2 218.0,138.0 C219.2,143.8 220.5,149.3 222.0,155.0 C223.5,160.7 225.1,166.8 227.0,172.0 C228.9,177.2 231.6,184.7 233.4,186.0 C235.2,187.3 236.4,184.3 238.0,180.0 C239.6,175.7 241.5,167.0 243.0,160.0 C244.5,153.0 245.7,144.0 247.0,138.0 C248.3,132.0 249.3,128.2 251.0,124.0 C252.7,119.8 254.8,115.6 257.0,113.0 C259.2,110.4 262.0,109.3 264.0,108.5 C266.0,107.7 267.2,107.8 269.0,108.0 C270.8,108.2 272.3,108.3 275.0,109.5 C277.7,110.7 281.7,113.2 285.0,115.0 C288.3,116.8 291.2,118.2 295.0,120.0 C298.8,121.8 303.8,124.1 308.0,126.0 C312.2,127.9 315.5,130.2 320.0,131.5 C324.5,132.8 330.8,133.2 335.0,133.6 C339.2,134.0 340.8,134.3 345.0,134.0 C349.2,133.7 356.3,133.2 360.0,131.7 C363.7,130.1 365.0,126.7 367.0,124.7 C369.0,122.8 370.3,121.1 372.0,120.0 C373.7,118.9 374.3,118.5 377.0,118.2 C379.7,117.9 386.2,118.2 388.0,118.2" fill="none" stroke="#2a2a2a" stroke-width="1.1" stroke-linejoin="round" stroke-linecap="round" opacity="1"/>
<line x1="449.3" y1="128.4" x2="765.5" y2="128.4" stroke="#ececec" stroke-width="1" stroke-dasharray="2,1"/>
<line x1="512" y1="59" x2="512" y2="228.5" stroke="#ececec" stroke-width="1" stroke-dasharray="2,1"/>
<path d="M449.3,55 V228.5 H765.5" fill="none" stroke="#8a8a8a" stroke-width="1.6"/>
<line x1="449.3" y1="83" x2="452.3" y2="83" stroke="#8a8a8a" stroke-width="1"/>
<text x="447.5" y="90" font-size="14.5" font-weight="normal" text-anchor="end" fill="#2a2a2a" >5</text>
<line x1="449.3" y1="128.4" x2="452.3" y2="128.4" stroke="#8a8a8a" stroke-width="1"/>
<text x="447.5" y="135.4" font-size="14.5" font-weight="normal" text-anchor="end" fill="#2a2a2a" >0</text>
<line x1="449.3" y1="174.2" x2="452.3" y2="174.2" stroke="#8a8a8a" stroke-width="1"/>
<text x="447.5" y="181.2" font-size="14.5" font-weight="normal" text-anchor="end" fill="#2a2a2a" >-5</text>
<line x1="449.3" y1="219.2" x2="452.3" y2="219.2" stroke="#8a8a8a" stroke-width="1"/>
<text x="447.5" y="226.2" font-size="14.5" font-weight="normal" text-anchor="end" fill="#2a2a2a" >-10</text>
<line x1="512" y1="228.5" x2="512" y2="225.5" stroke="#8a8a8a" stroke-width="1"/>
<text x="512" y="246.5" font-size="14.5" font-weight="normal" text-anchor="middle" fill="#2a2a2a" >0</text>
<line x1="576" y1="228.5" x2="576" y2="225.5" stroke="#8a8a8a" stroke-width="1"/>
<text x="576" y="246.5" font-size="14.5" font-weight="normal" text-anchor="middle" fill="#2a2a2a" >100</text>
<line x1="640" y1="228.5" x2="640" y2="225.5" stroke="#8a8a8a" stroke-width="1"/>
<text x="640" y="246.5" font-size="14.5" font-weight="normal" text-anchor="middle" fill="#2a2a2a" >200</text>
<line x1="704" y1="228.5" x2="704" y2="225.5" stroke="#8a8a8a" stroke-width="1"/>
<text x="704" y="246.5" font-size="14.5" font-weight="normal" text-anchor="middle" fill="#2a2a2a" >300</text><rect x="511.2" y="39.4" width="26.9" height="19.6" fill="#c4e8c0"/><text x="512.3" y="54.7" font-size="15" font-weight="normal" text-anchor="start" fill="#0c180c"  textLength="25" lengthAdjust="spacingAndGlyphs">P10</text><path d="M450.0,134.7 C451.7,134.1 456.7,132.4 460.0,131.0 C463.3,129.6 465.8,127.3 470.0,126.0 C474.2,124.7 479.8,123.0 485.0,123.0 C490.2,123.0 495.2,125.0 501.0,126.0 C506.8,127.0 514.7,129.0 520.0,129.0 C525.3,129.0 528.8,126.3 533.0,126.0 C537.2,125.7 541.5,126.7 545.0,127.0 C548.5,127.3 551.3,128.7 554.0,128.0 C556.7,127.3 558.8,125.0 561.0,123.0 C563.2,121.0 565.1,118.5 567.0,116.0 C568.9,113.5 570.8,110.8 572.5,108.0 C574.2,105.2 575.5,101.3 577.0,99.5 C578.5,97.7 580.1,97.2 581.6,97.4 C583.1,97.7 584.4,98.6 586.0,101.0 C587.6,103.4 589.5,108.0 591.0,112.0 C592.5,116.0 593.7,117.8 595.0,125.0 C596.3,132.2 597.7,145.8 599.0,155.0 C600.3,164.2 601.7,173.0 603.0,180.0 C604.3,187.0 605.6,193.2 607.0,197.0 C608.4,200.8 610.0,202.5 611.3,203.0 C612.6,203.5 613.5,202.8 615.0,200.0 C616.5,197.2 618.0,192.7 620.0,186.0 C622.0,179.3 624.8,170.1 627.0,160.0 C629.2,149.9 631.1,133.7 633.5,125.6 C635.9,117.5 638.6,114.7 641.4,111.2 C644.2,107.7 647.4,104.9 650.5,104.5 C653.6,104.1 655.9,105.2 660.0,109.0 C664.1,112.8 668.7,122.5 675.0,127.0 C681.3,131.5 691.1,133.8 697.8,136.0 C704.5,138.2 710.5,139.6 715.0,139.9 C719.5,140.2 721.5,139.2 725.0,138.0 C728.5,136.8 732.7,135.7 736.0,132.9 C739.3,130.1 742.0,124.5 745.0,121.0 C748.0,117.5 750.3,113.5 753.8,112.0 C757.3,110.5 764.0,112.0 766.0,112.0" fill="none" stroke="#3fbf3f" stroke-width="1.25" stroke-linejoin="round" stroke-linecap="round" opacity="1"/><path d="M450.0,136.0 C451.7,135.3 456.7,133.5 460.0,132.0 C463.3,130.5 465.8,128.5 470.0,127.0 C474.2,125.5 479.8,123.2 485.0,123.0 C490.2,122.8 495.2,124.9 501.0,126.0 C506.8,127.1 514.7,129.3 520.0,129.6 C525.3,129.9 528.8,128.1 533.0,128.0 C537.2,127.9 541.5,128.9 545.0,129.0 C548.5,129.1 551.3,129.5 554.0,128.5 C556.7,127.5 558.8,125.2 561.0,123.0 C563.2,120.8 565.1,118.0 567.0,115.0 C568.9,112.0 570.7,108.8 572.5,105.0 C574.3,101.2 576.4,94.8 578.0,92.0 C579.6,89.2 580.8,87.9 582.3,88.2 C583.8,88.5 585.4,90.0 587.0,94.0 C588.6,98.0 590.5,106.0 592.0,112.0 C593.5,118.0 594.7,122.0 596.0,130.0 C597.3,138.0 598.7,150.8 600.0,160.0 C601.3,169.2 602.7,178.2 604.0,185.0 C605.3,191.8 606.8,197.5 608.0,201.0 C609.2,204.5 610.1,205.9 611.3,206.2 C612.5,206.5 613.5,206.0 615.0,203.0 C616.5,200.0 618.0,195.2 620.0,188.0 C622.0,180.8 624.8,170.4 627.0,160.0 C629.2,149.6 631.1,133.7 633.5,125.6 C635.9,117.5 638.6,114.6 641.4,111.2 C644.2,107.8 647.4,105.7 650.5,105.3 C653.6,104.9 655.9,105.4 660.0,109.0 C664.1,112.6 668.7,122.4 675.0,127.0 C681.3,131.6 691.1,134.2 697.8,136.4 C704.5,138.6 710.5,139.7 715.0,140.0 C719.5,140.3 721.5,139.2 725.0,138.0 C728.5,136.8 732.7,135.7 736.0,132.9 C739.3,130.1 742.0,124.5 745.0,121.0 C748.0,117.5 750.3,113.5 753.8,112.0 C757.3,110.5 764.0,112.0 766.0,112.0" fill="none" stroke="#3a56a8" stroke-width="1.25" stroke-linejoin="round" stroke-linecap="round" opacity="1"/><path d="M450.0,136.0 C451.7,135.3 456.7,133.7 460.0,132.0 C463.3,130.3 465.8,127.8 470.0,126.0 C474.2,124.2 479.8,121.0 485.0,121.0 C490.2,121.0 495.2,124.5 501.0,126.0 C506.8,127.5 514.7,128.7 520.0,130.0 C525.3,131.3 528.8,133.0 533.0,133.7 C537.2,134.4 541.5,134.1 545.0,134.0 C548.5,133.9 551.3,134.7 554.0,133.4 C556.7,132.1 558.7,129.5 561.0,126.0 C563.3,122.5 566.2,116.9 568.0,112.5 C569.8,108.1 570.5,105.2 572.0,99.4 C573.5,93.7 575.2,83.3 577.0,78.0 C578.8,72.7 580.9,68.6 582.6,67.6 C584.3,66.6 585.7,67.8 587.0,72.0 C588.3,76.2 589.0,86.0 590.2,92.8 C591.4,99.5 592.7,104.6 594.0,112.5 C595.3,120.4 596.8,131.2 598.0,140.0 C599.2,148.8 599.8,155.8 601.0,165.0 C602.2,174.2 603.7,186.7 605.0,195.0 C606.3,203.3 607.7,210.4 609.0,215.0 C610.3,219.6 611.5,221.8 612.8,222.8 C614.1,223.8 615.5,223.5 617.0,221.0 C618.5,218.5 620.3,213.5 622.0,208.0 C623.7,202.5 625.4,196.0 627.0,188.0 C628.6,180.0 630.2,168.3 631.5,160.0 C632.8,151.7 633.8,144.2 635.0,138.0 C636.2,131.8 637.2,126.7 638.7,123.0 C640.2,119.3 642.2,117.4 644.0,116.0 C645.8,114.6 647.4,114.5 649.2,114.5 C651.0,114.5 650.7,113.8 655.0,116.0 C659.3,118.2 667.9,124.2 675.0,127.6 C682.1,131.0 691.1,134.2 697.8,136.4 C704.5,138.6 710.5,140.4 715.0,140.8 C719.5,141.2 721.5,140.3 725.0,139.0 C728.5,137.7 732.7,135.0 736.0,133.0 C739.3,131.0 742.0,129.1 745.0,127.0 C748.0,124.9 750.3,121.7 753.8,120.6 C757.3,119.5 764.0,120.6 766.0,120.6" fill="none" stroke="#b83a3a" stroke-width="1.25" stroke-linejoin="round" stroke-linecap="round" opacity="1"/><path d="M450.0,137.5 C451.7,136.9 456.7,135.6 460.0,134.0 C463.3,132.4 465.8,129.8 470.0,128.0 C474.2,126.2 479.8,123.3 485.0,123.0 C490.2,122.7 495.2,124.9 501.0,126.0 C506.8,127.1 514.7,128.9 520.0,129.6 C525.3,130.3 528.8,129.9 533.0,130.0 C537.2,130.1 541.5,130.2 545.0,130.0 C548.5,129.8 551.3,130.2 554.0,129.0 C556.7,127.8 558.8,125.5 561.0,123.0 C563.2,120.5 565.1,117.2 567.0,114.0 C568.9,110.8 570.5,107.8 572.5,103.8 C574.5,99.8 576.8,93.0 579.0,90.0 C581.2,87.0 583.8,85.6 585.6,85.6 C587.4,85.6 588.5,84.4 590.0,90.0 C591.5,95.6 593.5,110.0 594.8,119.0 C596.1,128.0 597.0,136.3 598.0,144.0 C599.0,151.7 599.8,156.5 601.0,165.0 C602.2,173.5 603.7,186.7 605.0,195.0 C606.3,203.3 607.7,210.4 609.0,215.0 C610.3,219.6 611.5,222.0 612.8,222.8 C614.1,223.6 615.5,223.0 617.0,220.0 C618.5,217.0 620.3,210.8 622.0,205.0 C623.7,199.2 625.2,192.5 627.0,185.0 C628.8,177.5 631.1,167.8 632.8,160.0 C634.5,152.2 635.6,144.2 637.0,138.0 C638.4,131.8 639.7,126.2 641.4,123.0 C643.1,119.8 645.0,119.5 647.0,118.5 C649.0,117.5 651.0,116.9 653.2,117.0 C655.4,117.1 656.4,117.2 660.0,119.0 C663.6,120.8 668.7,124.7 675.0,127.6 C681.3,130.5 691.1,134.1 697.8,136.4 C704.5,138.7 710.5,141.2 715.0,141.6 C719.5,142.0 721.5,140.4 725.0,139.0 C728.5,137.6 732.7,135.7 736.0,132.9 C739.3,130.1 742.0,125.5 745.0,122.0 C748.0,118.5 750.3,113.7 753.8,112.0 C757.3,110.3 764.0,112.0 766.0,112.0" fill="none" stroke="#2a2a2a" stroke-width="1.25" stroke-linejoin="round" stroke-linecap="round" opacity="1"/><line x1="668" y1="27.7" x2="693.5" y2="27.7" stroke="#111" stroke-width="3"/><text x="710" y="33.6" font-size="14.5" font-weight="bold" text-anchor="start" fill="#111"  textLength="55" lengthAdjust="spacingAndGlyphs">Left eye</text><line x1="668" y1="49.2" x2="693.5" y2="49.2" stroke="#a82a2a" stroke-width="3"/><text x="710" y="53.8" font-size="14.5" font-weight="bold" text-anchor="start" fill="#111"  textLength="65.2" lengthAdjust="spacingAndGlyphs">Right eye</text><line x1="668" y1="70.5" x2="693.5" y2="70.5" stroke="#3f6e98" stroke-width="3"/><text x="710" y="74" font-size="14.5" font-weight="bold" text-anchor="start" fill="#111"  textLength="35.5" lengthAdjust="spacingAndGlyphs">Nose</text><line x1="668" y1="89.5" x2="693.5" y2="89.5" stroke="#35c535" stroke-width="3"/><text x="710" y="93.75" font-size="14.5" font-weight="bold" text-anchor="start" fill="#111"  textLength="48.5" lengthAdjust="spacingAndGlyphs">Mouth</text><line x1="633" y1="211.6" x2="733" y2="211.6" stroke="#111" stroke-width="2.6"/><path d="M624.5,211.6 L636,205.8 L636,217.4 Z" fill="#111"/><text x="737" y="217" font-size="16" font-weight="bold" text-anchor="start" fill="#111" >N170</text>
<text x="14.8" y="277.6" font-size="26" font-weight="bold" text-anchor="start" fill="#111"  textLength="24" lengthAdjust="spacingAndGlyphs">B.</text><text x="56" y="269.7" font-size="14" font-weight="bold" text-anchor="start" fill="#111"  textLength="19.2" lengthAdjust="spacingAndGlyphs">µV</text><line x1="64.5" y1="373" x2="387" y2="373" stroke="#ececec" stroke-width="1" stroke-dasharray="2,1"/>
<line x1="128" y1="283" x2="128" y2="455.5" stroke="#ececec" stroke-width="1" stroke-dasharray="2,1"/>
<path d="M64.5,279 V455.5 H387" fill="none" stroke="#8a8a8a" stroke-width="1.6"/>
<line x1="64.5" y1="331" x2="67.5" y2="331" stroke="#8a8a8a" stroke-width="1"/>
<text x="62" y="337.5" font-size="14.5" font-weight="normal" text-anchor="end" fill="#2a2a2a" >1</text>
<line x1="64.5" y1="373" x2="67.5" y2="373" stroke="#8a8a8a" stroke-width="1"/>
<text x="62" y="379.5" font-size="14.5" font-weight="normal" text-anchor="end" fill="#2a2a2a" >0</text>
<line x1="64.5" y1="415" x2="67.5" y2="415" stroke="#8a8a8a" stroke-width="1"/>
<text x="62" y="421.5" font-size="14.5" font-weight="normal" text-anchor="end" fill="#2a2a2a" >-1</text>
<line x1="128" y1="455.5" x2="128" y2="452.5" stroke="#8a8a8a" stroke-width="1"/>
<text x="128" y="473.5" font-size="14.5" font-weight="normal" text-anchor="middle" fill="#2a2a2a" >0</text>
<line x1="193" y1="455.5" x2="193" y2="452.5" stroke="#8a8a8a" stroke-width="1"/>
<text x="193" y="473.5" font-size="14.5" font-weight="normal" text-anchor="middle" fill="#2a2a2a" >100</text>
<line x1="258" y1="455.5" x2="258" y2="452.5" stroke="#8a8a8a" stroke-width="1"/>
<text x="258" y="473.5" font-size="14.5" font-weight="normal" text-anchor="middle" fill="#2a2a2a" >200</text>
<line x1="323" y1="455.5" x2="323" y2="452.5" stroke="#8a8a8a" stroke-width="1"/>
<text x="323" y="473.5" font-size="14.5" font-weight="normal" text-anchor="middle" fill="#2a2a2a" >300</text>
<text x="396" y="457" font-size="15" font-weight="bold" text-anchor="start" fill="#111" >ms</text>
<line x1="396" y1="459" x2="417" y2="459" stroke="#e09090" stroke-width="0.8" stroke-dasharray="1,1"/><rect x="127.9" y="262.3" width="26.7" height="18.3" fill="#c4e8c0"/><text x="128.5" y="276.6" font-size="15" font-weight="normal" text-anchor="start" fill="#0c180c"  textLength="26" lengthAdjust="spacingAndGlyphs">P10</text><path d="M65.0,370.6 C66.4,370.1 69.5,367.1 73.5,367.7 C77.5,368.3 83.8,372.6 89.0,374.0 C94.2,375.4 101.4,376.1 105.0,376.3 C108.6,376.5 107.3,376.2 110.6,375.0 C113.9,373.8 120.7,370.3 125.0,369.0 C129.3,367.7 133.3,368.8 136.5,367.3 C139.7,365.8 141.4,362.4 144.0,360.0 C146.6,357.6 149.7,353.4 152.0,352.6 C154.3,351.8 156.1,353.9 158.0,355.0 C159.9,356.1 161.6,357.5 163.6,359.0 C165.6,360.5 168.1,362.9 170.0,364.0 C171.9,365.1 173.1,365.8 174.8,365.5 C176.5,365.2 178.1,363.2 180.0,362.0 C181.9,360.8 183.5,358.7 186.0,358.0 C188.5,357.3 192.0,359.1 195.0,358.0 C198.0,356.9 201.7,354.2 204.0,351.5 C206.3,348.8 207.5,344.8 209.0,342.0 C210.5,339.2 211.8,336.1 213.0,334.5 C214.2,332.9 215.0,332.6 216.0,332.5 C217.0,332.4 218.0,332.9 219.0,334.0 C220.0,335.1 220.8,336.3 222.0,339.0 C223.2,341.7 224.5,345.3 226.0,350.0 C227.5,354.7 229.0,360.5 231.0,367.3 C233.0,374.1 235.8,384.2 238.0,391.0 C240.2,397.8 241.4,403.0 244.0,408.0 C246.6,413.0 250.1,418.2 253.8,421.0 C257.5,423.8 261.9,425.6 266.0,425.0 C270.1,424.4 273.8,420.0 278.5,417.7 C283.2,415.4 288.8,411.4 294.0,411.0 C299.2,410.6 304.9,413.3 310.0,415.4 C315.1,417.5 319.8,424.4 324.7,423.7 C329.6,423.0 335.0,414.1 339.3,411.0 C343.6,407.9 346.5,408.6 350.6,405.0 C354.7,401.4 359.9,393.2 364.0,389.5 C368.1,385.8 371.7,385.2 375.3,382.8 C378.9,380.4 383.8,376.3 385.5,375.0" fill="none" stroke="#3a3a3a" stroke-width="1.3" stroke-linejoin="round" stroke-linecap="round" opacity="1"/><path d="M65.0,370.6 C66.4,370.1 69.7,367.1 73.5,367.7 C77.3,368.3 83.1,371.8 88.0,374.0 C92.9,376.2 99.2,380.6 102.8,381.2 C106.4,381.8 107.1,379.6 109.5,377.4 C111.9,375.2 114.6,370.6 117.0,368.0 C119.4,365.4 121.1,362.6 124.0,361.7 C126.9,360.8 131.1,363.1 134.3,362.3 C137.5,361.5 140.1,358.6 143.0,357.0 C145.9,355.4 148.8,352.4 152.0,352.6 C155.2,352.8 158.6,355.9 162.0,358.0 C165.4,360.1 169.6,364.7 172.6,365.0 C175.6,365.3 177.0,361.9 180.0,360.0 C183.0,358.1 187.3,355.6 190.6,353.8 C193.9,352.0 197.0,350.1 200.0,349.0 C203.0,347.9 205.9,347.0 208.6,347.0 C211.3,347.0 213.8,347.9 216.0,349.0 C218.2,350.1 219.5,351.0 222.0,353.8 C224.5,356.6 228.3,361.8 231.0,366.0 C233.7,370.2 235.5,375.3 238.0,379.0 C240.5,382.7 242.4,385.1 246.0,388.0 C249.6,390.9 255.1,395.9 259.4,396.3 C263.7,396.8 267.9,392.9 271.8,390.7 C275.7,388.5 279.1,384.1 283.0,383.2 C286.9,382.2 290.6,386.0 295.5,385.0 C300.4,384.0 306.9,377.0 312.3,377.2 C317.7,377.4 323.5,385.1 328.0,386.0 C332.5,386.9 335.7,382.5 339.3,382.3 C342.9,382.1 345.9,385.1 349.5,384.6 C353.1,384.1 357.1,379.5 360.7,379.4 C364.2,379.3 366.7,384.8 370.8,383.9 C374.9,383.0 383.1,375.5 385.5,373.8" fill="none" stroke="#4a4a4a" stroke-width="1.5" stroke-linejoin="round" stroke-linecap="round" opacity="1" stroke-dasharray="3,2"/><line x1="267.2" y1="294.5" x2="296.1" y2="294.5" stroke="#0a0a0a" stroke-width="3.2"/><path d="M267.2,324.9 H276.7 M279.6,324.9 H289.2 M292.5,324.9 H296.1" stroke="#0a0a0a" stroke-width="3.2"/><text x="310.5" y="300" font-size="14.5" font-weight="bold" text-anchor="start" fill="#111"  textLength="33" lengthAdjust="spacingAndGlyphs">F - N</text><text x="309.5" y="328.3" font-size="14.5" font-weight="bold" text-anchor="start" fill="#111"  textLength="35" lengthAdjust="spacingAndGlyphs">H - N</text><text x="490.3" y="305" font-size="20.5" font-weight="bold" text-anchor="start" fill="#111"  textLength="46.5" lengthAdjust="spacingAndGlyphs">F - N</text><text x="624.5" y="307" font-size="20.5" font-weight="bold" text-anchor="start" fill="#111"  textLength="52.5" lengthAdjust="spacingAndGlyphs">H - N</text><text x="550.3" y="447.5" font-size="17" font-weight="bold" text-anchor="start" fill="#111"  textLength="55.5" lengthAdjust="spacingAndGlyphs">200ms</text><defs><linearGradient id="jet" x1="0" y1="0" x2="0" y2="1"><stop offset="0" stop-color="#800000"/><stop offset="0.125" stop-color="#ff0000"/><stop offset="0.25" stop-color="#ff8000"/><stop offset="0.375" stop-color="#ffff00"/><stop offset="0.5" stop-color="#80ff80"/><stop offset="0.625" stop-color="#00ffff"/><stop offset="0.75" stop-color="#0080ff"/><stop offset="0.875" stop-color="#0000ff"/><stop offset="1" stop-color="#000080"/></linearGradient></defs><rect x="731" y="318" width="11" height="117.5" fill="url(#jet)"/><path d="M731,376.4 h2 M740,376.4 h2" stroke="#555" stroke-width="1"/><text x="748" y="316.2" font-size="12.5" font-weight="bold" text-anchor="start" fill="#111"  textLength="40.5" lengthAdjust="spacingAndGlyphs">+1 µV</text><text x="757" y="377" font-size="13.5" font-weight="bold" text-anchor="start" fill="#111" >0</text><text x="752" y="437.5" font-size="13.5" font-weight="bold" text-anchor="start" fill="#111" >-1</text>
<text x="19.3" y="504.2" font-size="27" font-weight="bold" text-anchor="start" fill="#111"  textLength="25" lengthAdjust="spacingAndGlyphs">C.</text><text x="61.5" y="511.9" font-size="15" font-weight="bold" text-anchor="start" fill="#111"  textLength="19.8" lengthAdjust="spacingAndGlyphs">µV</text><rect x="285.6" y="514.4" width="76.4" height="182" fill="#cccccc"/><line x1="67" y1="592.5" x2="384" y2="592.5" stroke="#ececec" stroke-width="1" stroke-dasharray="2,1"/>
<line x1="129" y1="525" x2="129" y2="696.5" stroke="#ececec" stroke-width="1" stroke-dasharray="2,1"/>
<path d="M67,521 V696.5 H384" fill="none" stroke="#8a8a8a" stroke-width="1.6"/>
<line x1="67" y1="541" x2="70" y2="541" stroke="#8a8a8a" stroke-width="1"/>
<text x="64.5" y="547.5" font-size="14.5" font-weight="normal" text-anchor="end" fill="#2a2a2a" >5</text>
<line x1="67" y1="592.7" x2="70" y2="592.7" stroke="#8a8a8a" stroke-width="1"/>
<text x="64.5" y="599.2" font-size="14.5" font-weight="normal" text-anchor="end" fill="#2a2a2a" >0</text>
<line x1="67" y1="644.3" x2="70" y2="644.3" stroke="#8a8a8a" stroke-width="1"/>
<text x="64.5" y="650.8" font-size="14.5" font-weight="normal" text-anchor="end" fill="#2a2a2a" >-5</text>
<line x1="67" y1="696" x2="70" y2="696" stroke="#8a8a8a" stroke-width="1"/>
<text x="64.5" y="702.5" font-size="14.5" font-weight="normal" text-anchor="end" fill="#2a2a2a" >-10</text>
<line x1="129" y1="696.5" x2="129" y2="693.5" stroke="#8a8a8a" stroke-width="1"/>
<text x="129" y="714.5" font-size="14.5" font-weight="normal" text-anchor="middle" fill="#2a2a2a" >0</text>
<line x1="193.5" y1="696.5" x2="193.5" y2="693.5" stroke="#8a8a8a" stroke-width="1"/>
<text x="193.5" y="714.5" font-size="14.5" font-weight="normal" text-anchor="middle" fill="#2a2a2a" >100</text>
<line x1="257.4" y1="696.5" x2="257.4" y2="693.5" stroke="#8a8a8a" stroke-width="1"/>
<text x="257.4" y="714.5" font-size="14.5" font-weight="normal" text-anchor="middle" fill="#2a2a2a" >200</text>
<line x1="321" y1="696.5" x2="321" y2="693.5" stroke="#8a8a8a" stroke-width="1"/>
<text x="321" y="714.5" font-size="14.5" font-weight="normal" text-anchor="middle" fill="#2a2a2a" >300</text>
<text x="387" y="698" font-size="15" font-weight="bold" text-anchor="start" fill="#111" >ms</text>
<line x1="387" y1="700" x2="408" y2="700" stroke="#e09090" stroke-width="0.8" stroke-dasharray="1,1"/><rect x="128.4" y="505.3" width="27.6" height="20.8" fill="#c4e8c0"/><text x="129.6" y="521.1" font-size="15" font-weight="normal" text-anchor="start" fill="#0c180c"  textLength="26.3" lengthAdjust="spacingAndGlyphs">P10</text><path d="M67.0,600.6 C69.3,600.0 76.0,598.9 81.0,596.8 C86.0,594.7 91.5,589.4 96.8,588.0 C102.0,586.6 106.4,587.6 112.5,588.4 C118.6,589.2 126.3,592.1 133.5,593.0 C140.7,593.9 149.3,594.1 155.4,594.0 C161.5,593.9 166.4,593.7 170.3,592.5 C174.2,591.3 176.7,589.1 179.0,587.0 C181.3,584.9 182.2,583.8 184.0,580.0 C185.8,576.2 187.7,569.2 189.5,564.0 C191.3,558.8 193.1,552.6 195.0,549.0 C196.9,545.4 198.9,542.5 200.7,542.5 C202.5,542.5 204.2,544.8 206.0,549.0 C207.8,553.2 209.5,558.2 211.4,568.0 C213.3,577.8 215.1,592.3 217.3,608.0 C219.5,623.7 222.0,648.6 224.4,662.0 C226.8,675.4 229.1,687.6 231.5,688.3 C233.9,689.0 236.0,677.2 238.6,666.0 C241.2,654.8 244.4,633.2 247.0,621.0 C249.6,608.8 251.5,600.3 254.0,593.0 C256.5,585.7 259.2,580.4 262.0,577.0 C264.8,573.6 267.5,572.5 270.5,572.5 C273.5,572.5 277.1,574.5 280.0,577.0 C282.9,579.5 285.5,584.9 288.0,587.4 C290.5,589.9 291.3,589.9 295.0,592.0 C298.7,594.1 305.0,598.1 310.0,600.0 C315.0,601.9 320.0,602.4 325.0,603.5 C330.0,604.6 335.5,606.8 340.0,606.5 C344.5,606.2 348.5,604.2 352.0,602.0 C355.5,599.8 358.0,596.4 361.0,593.0 C364.0,589.6 367.3,584.4 370.0,581.8 C372.7,579.1 374.8,578.1 377.0,577.0 C379.2,575.9 382.4,575.3 383.5,575.0" fill="none" stroke="#5cd6e0" stroke-width="1.5" stroke-linejoin="round" stroke-linecap="round" opacity="1"/><path d="M67.0,600.6 C69.3,600.0 76.0,598.9 81.0,596.8 C86.0,594.7 91.5,589.4 96.8,588.0 C102.0,586.6 106.4,587.8 112.5,588.4 C118.6,589.0 126.3,591.7 133.5,591.8 C140.7,591.9 149.3,588.9 155.4,588.9 C161.5,588.9 166.4,592.0 170.3,591.5 C174.2,591.0 176.7,588.1 179.0,586.0 C181.3,583.9 182.2,583.0 184.0,579.0 C185.8,575.0 187.7,567.7 189.5,562.0 C191.3,556.3 193.1,549.2 195.0,545.0 C196.9,540.8 198.9,537.0 200.7,537.0 C202.5,537.0 204.2,540.3 206.0,545.0 C207.8,549.7 209.5,554.6 211.4,565.0 C213.3,575.4 215.1,591.4 217.3,607.5 C219.5,623.6 222.0,648.3 224.4,661.8 C226.8,675.3 229.1,687.3 231.5,688.3 C233.9,689.3 235.9,678.5 239.0,668.0 C242.1,657.5 247.0,636.3 250.0,625.0 C253.0,613.7 254.8,605.8 257.0,600.0 C259.2,594.2 260.8,592.5 263.0,590.0 C265.2,587.5 267.7,585.3 270.5,585.0 C273.3,584.7 277.1,586.4 280.0,588.0 C282.9,589.6 285.5,592.7 288.0,594.5 C290.5,596.3 291.3,596.2 295.0,599.0 C298.7,601.8 305.0,608.5 310.0,611.0 C315.0,613.5 320.0,613.2 325.0,614.0 C330.0,614.8 335.5,616.2 340.0,615.5 C344.5,614.8 348.5,612.2 352.0,609.5 C355.5,606.8 358.0,603.2 361.0,599.0 C364.0,594.8 367.3,587.5 370.0,584.0 C372.7,580.5 374.8,579.5 377.0,578.0 C379.2,576.5 382.4,575.5 383.5,575.0" fill="none" stroke="#c050b8" stroke-width="1.3" stroke-linejoin="round" stroke-linecap="round" opacity="1"/><path d="M67.0,600.6 C69.3,600.0 76.0,598.9 81.0,596.8 C86.0,594.7 91.5,589.4 96.8,588.0 C102.0,586.6 106.4,587.8 112.5,588.4 C118.6,589.0 126.3,591.7 133.5,591.8 C140.7,591.9 149.3,588.9 155.4,588.9 C161.5,588.9 166.4,592.0 170.3,591.5 C174.2,591.0 176.7,588.1 179.0,586.0 C181.3,583.9 182.2,583.0 184.0,579.0 C185.8,575.0 187.7,567.7 189.5,562.0 C191.3,556.3 193.1,549.2 195.0,545.0 C196.9,540.8 198.9,537.0 200.7,537.0 C202.5,537.0 204.2,540.3 206.0,545.0 C207.8,549.7 209.5,554.6 211.4,565.0 C213.3,575.4 215.1,591.4 217.3,607.5 C219.5,623.6 222.0,648.3 224.4,661.8 C226.8,675.3 229.1,687.5 231.5,688.3 C233.9,689.1 235.8,677.7 238.6,666.6 C241.3,655.5 245.3,633.5 248.0,621.7 C250.7,609.9 252.7,602.2 255.0,595.6 C257.3,589.0 259.4,585.1 262.0,582.0 C264.6,578.9 267.5,577.0 270.5,576.7 C273.5,576.4 277.1,578.0 280.0,580.0 C282.9,582.0 285.5,586.5 288.0,588.5 C290.5,590.5 291.3,590.2 295.0,592.2 C298.7,594.2 305.0,598.5 310.0,600.5 C315.0,602.5 320.0,603.0 325.0,604.2 C330.0,605.5 335.5,608.1 340.0,608.0 C344.5,607.9 348.5,605.9 352.0,603.5 C355.5,601.1 358.0,597.4 361.0,593.8 C364.0,590.1 367.3,584.5 370.0,581.8 C372.7,579.0 374.8,578.1 377.0,577.0 C379.2,575.9 382.4,575.3 383.5,575.0" fill="none" stroke="#33407e" stroke-width="1.3" stroke-linejoin="round" stroke-linecap="round" opacity="1"/><rect x="392" y="509.79999999999995" width="23" height="6" fill="#e614dc"/><text x="432" y="520.6" font-size="14.5" font-weight="bold" text-anchor="start" fill="#111"  textLength="48" lengthAdjust="spacingAndGlyphs">Fearful</text><rect x="392" y="532.6" width="23" height="6" fill="#0a0ad2"/><text x="432" y="541.3" font-size="14.5" font-weight="bold" text-anchor="start" fill="#111"  textLength="46.8" lengthAdjust="spacingAndGlyphs">Happy</text><rect x="392" y="554.4" width="23" height="6" fill="#1ee6e6"/><text x="432" y="561.2" font-size="14.5" font-weight="bold" text-anchor="start" fill="#111"  textLength="52.5" lengthAdjust="spacingAndGlyphs">Neutral</text><line x1="320" y1="641.8" x2="441" y2="640.6" stroke="#111" stroke-width="2.6"/><path d="M450,640.5 L438.5,634.8 L438.5,646.2 Z" fill="#111"/>
<line x1="521" y1="657.1" x2="772" y2="657.1" stroke="#d9d9d9" stroke-width="1.2"/><line x1="521" y1="616.4" x2="772" y2="616.4" stroke="#d9d9d9" stroke-width="1.2"/><line x1="521" y1="575.8" x2="772" y2="575.8" stroke="#d9d9d9" stroke-width="1.2"/><line x1="521" y1="535.1" x2="772" y2="535.1" stroke="#d9d9d9" stroke-width="1.2"/><line x1="521" y1="697.7" x2="772" y2="697.7" stroke="#d0d0d0" stroke-width="1.4"/><line x1="521.2" y1="535.1" x2="521.2" y2="697.7" stroke="#d0d0d0" stroke-width="1.2"/><text x="507.5" y="702.2" font-size="12.5" font-weight="normal" text-anchor="middle" fill="#595959" >0</text><text x="507.5" y="661.5500000000001" font-size="12.5" font-weight="normal" text-anchor="middle" fill="#595959" >1</text><text x="507.5" y="620.9000000000001" font-size="12.5" font-weight="normal" text-anchor="middle" fill="#595959" >2</text><text x="507.5" y="580.25" font-size="12.5" font-weight="normal" text-anchor="middle" fill="#595959" >3</text><text x="507.5" y="539.6" font-size="12.5" font-weight="normal" text-anchor="middle" fill="#595959" >4</text><rect x="537.3" y="624.5" width="10.5" height="73.2" fill="#dc46c8"/><line x1="542.5" y1="597.3" x2="542.5" y2="624.5" stroke="#c858b8" stroke-width="1.4"/><line x1="538.8" y1="597.3" x2="546.2" y2="597.3" stroke="#c858b8" stroke-width="1.4"/><rect x="550.8" y="596.1" width="10.5" height="101.6" fill="#0a28c8"/><line x1="556.0" y1="569.7" x2="556.0" y2="596.1" stroke="#3050a0" stroke-width="1.4"/><line x1="552.3" y1="569.7" x2="559.8" y2="569.7" stroke="#3050a0" stroke-width="1.4"/><rect x="564.3" y="590.0" width="10.5" height="107.7" fill="#16d2ea"/><line x1="569.5" y1="561.1" x2="569.5" y2="590.0" stroke="#40c8cc" stroke-width="1.4"/><line x1="565.8" y1="561.1" x2="573.2" y2="561.1" stroke="#40c8cc" stroke-width="1.4"/><rect x="599.0" y="632.7" width="10.5" height="65.0" fill="#dc46c8"/><line x1="604.2" y1="605.4" x2="604.2" y2="632.7" stroke="#c858b8" stroke-width="1.4"/><line x1="600.5" y1="605.4" x2="608.0" y2="605.4" stroke="#c858b8" stroke-width="1.4"/><rect x="612.5" y="615.2" width="10.5" height="82.5" fill="#0a28c8"/><line x1="617.8" y1="585.1" x2="617.8" y2="615.2" stroke="#3050a0" stroke-width="1.4"/><line x1="614.0" y1="585.1" x2="621.5" y2="585.1" stroke="#3050a0" stroke-width="1.4"/><rect x="626.0" y="596.1" width="10.5" height="101.6" fill="#16d2ea"/><line x1="631.2" y1="568.4" x2="631.2" y2="596.1" stroke="#40c8cc" stroke-width="1.4"/><line x1="627.5" y1="568.4" x2="635.0" y2="568.4" stroke="#40c8cc" stroke-width="1.4"/><rect x="661.0" y="615.2" width="10.5" height="82.5" fill="#dc46c8"/><line x1="666.2" y1="591.2" x2="666.2" y2="615.2" stroke="#c858b8" stroke-width="1.4"/><line x1="662.5" y1="591.2" x2="670.0" y2="591.2" stroke="#c858b8" stroke-width="1.4"/><rect x="674.5" y="601.0" width="10.5" height="96.7" fill="#0a28c8"/><line x1="679.8" y1="579.0" x2="679.8" y2="601.0" stroke="#3050a0" stroke-width="1.4"/><line x1="676.0" y1="579.0" x2="683.5" y2="579.0" stroke="#3050a0" stroke-width="1.4"/><rect x="688.0" y="601.0" width="10.5" height="96.7" fill="#16d2ea"/><line x1="693.2" y1="579.0" x2="693.2" y2="601.0" stroke="#40c8cc" stroke-width="1.4"/><line x1="689.5" y1="579.0" x2="697.0" y2="579.0" stroke="#40c8cc" stroke-width="1.4"/><rect x="722.0" y="614.0" width="10.5" height="83.7" fill="#dc46c8"/><line x1="727.2" y1="592.8" x2="727.2" y2="614.0" stroke="#c858b8" stroke-width="1.4"/><line x1="723.5" y1="592.8" x2="731.0" y2="592.8" stroke="#c858b8" stroke-width="1.4"/><rect x="735.5" y="614.0" width="10.5" height="83.7" fill="#0a28c8"/><line x1="740.8" y1="593.6" x2="740.8" y2="614.0" stroke="#3050a0" stroke-width="1.4"/><line x1="737.0" y1="593.6" x2="744.5" y2="593.6" stroke="#3050a0" stroke-width="1.4"/><rect x="749.0" y="581.4" width="10.5" height="116.3" fill="#16d2ea"/><line x1="754.2" y1="558.7" x2="754.2" y2="581.4" stroke="#40c8cc" stroke-width="1.4"/><line x1="750.5" y1="558.7" x2="758.0" y2="558.7" stroke="#40c8cc" stroke-width="1.4"/><text x="556" y="719.8" font-size="13" font-weight="normal" text-anchor="middle" fill="#595959"  textLength="11.8" lengthAdjust="spacingAndGlyphs">LE</text><text x="618.4" y="719.8" font-size="13" font-weight="normal" text-anchor="middle" fill="#595959"  textLength="15.6" lengthAdjust="spacingAndGlyphs">RE</text><text x="680.5" y="719.8" font-size="13" font-weight="normal" text-anchor="middle" fill="#595959"  textLength="17.6" lengthAdjust="spacingAndGlyphs">No</text><text x="742" y="719.8" font-size="13" font-weight="normal" text-anchor="middle" fill="#595959"  textLength="20.3" lengthAdjust="spacingAndGlyphs">Mo</text><text x="660.5" y="747" font-size="15" font-weight="bold" text-anchor="middle" fill="#111" >250-350ms</text><path d="M536.5,579 V522 H569 V554" fill="none" stroke="#1e1e1e" stroke-width="1.5"/><path d="M601,579 V523.5 H633 V556" fill="none" stroke="#1e1e1e" stroke-width="1.5"/><path d="M723,569 H747 M735,569 V526 H755 V552" fill="none" stroke="#1e1e1e" stroke-width="1.5"/><text x="547.5" y="516" font-size="19" font-weight="normal" text-anchor="middle" fill="#1a1a1a" >*</text><text x="616.8" y="516" font-size="19" font-weight="normal" text-anchor="middle" fill="#1a1a1a" >*</text><text x="748" y="516" font-size="19" font-weight="normal" text-anchor="middle" fill="#1a1a1a" >*</text>
</svg>
</body></html>
